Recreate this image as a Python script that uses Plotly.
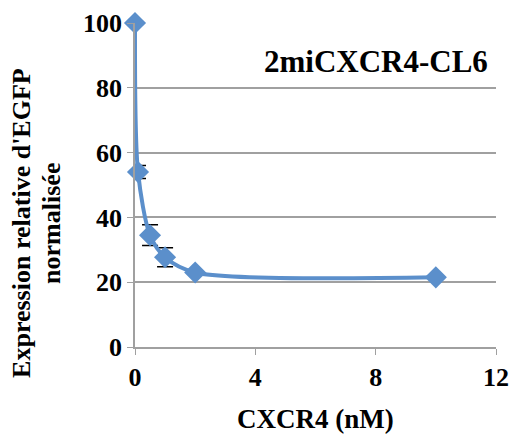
import plotly.graph_objects as go

conc = [0, 0.1, 0.5, 1, 2, 10]
expr = [100, 54, 34.5, 27.7, 23, 21.5]
err = [0, 2, 3.2, 2.9, 0, 0]
x_ticks = [0, 4, 8, 12]
y_ticks = [0, 20, 40, 60, 80, 100]
y_title_lines = ["Expression relative d'EGFP", "normalisée"]
x_title = "CXCR4 (nM)"
label = "2miCXCR4-CL6"

blue = "#5B8FCB"
font = "Liberation Serif"

fig = go.Figure()
fig.add_trace(go.Scatter(
    x=conc, y=expr, mode="lines+markers",
    line=dict(color=blue, width=4, shape="spline", smoothing=0.8),
    marker=dict(symbol="diamond", size=17, color=blue),
    error_y=dict(type="data", array=err, visible=True, color="black", thickness=1.5, width=8),
    cliponaxis=False, showlegend=False,
))

tf = dict(family=font, size=26, color="black", weight="bold")
fig.update_layout(
    width=511, height=435,
    margin=dict(l=135, r=15, t=23, b=88),
    plot_bgcolor="white", paper_bgcolor="white",
    font=dict(family=font, size=26, color="black"),
    xaxis=dict(range=[0, 12], tickvals=x_ticks, showgrid=False, automargin=False,
               showline=True, linecolor="#A0A0A0", linewidth=1.5,
               ticks="outside", ticklen=6, tickcolor="#A0A0A0", ticklabeloverflow="allow",
               tickfont=tf, zeroline=False),
    yaxis=dict(range=[0, 100], tickvals=y_ticks, showgrid=True, gridcolor="#A0A0A0", gridwidth=1.5,
               showline=True, linecolor="#A0A0A0", linewidth=1.5, automargin=False,
               ticks="outside", ticklen=6, tickcolor="#A0A0A0",
               tickfont=tf, zeroline=False),
)

fig.add_annotation(text=x_title, xref="paper", yref="paper",
                   x=0.5, y=-0.222, xanchor="center", yanchor="middle", showarrow=False,
                   font=dict(family=font, size=27, color="black", weight="bold"))
for txt, xp in zip(y_title_lines, [-0.313, -0.23]):
    fig.add_annotation(text=txt, xref="paper", yref="paper", textangle=-90,
                       x=xp, y=0.383, xanchor="center", yanchor="middle", showarrow=False,
                       font=tf)

fig.add_annotation(text=label, xref="paper", yref="paper",
                   x=0.983, y=0.88, xanchor="right", yanchor="middle", showarrow=False,
                   font=dict(family=font, size=31, color="black", weight="bold"))

fig.write_html("out.html", config={"displayModeBar": False},
               post_script="document.body.style.margin='0px';")
